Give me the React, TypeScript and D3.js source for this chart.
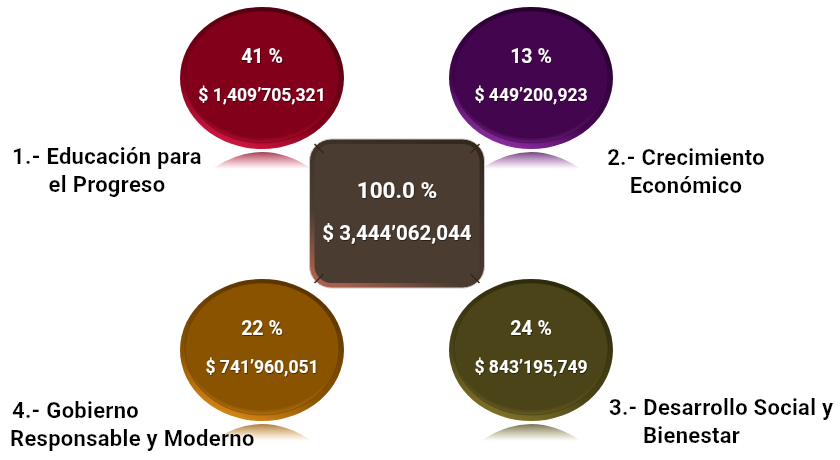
import { useEffect, useRef } from "react";
import * as d3 from "d3";

const AXES = ["1.- Educación para|el Progreso", "2.- Crecimiento|Económico", "3.- Desarrollo Social y|Bienestar", "4.- Gobierno|Responsable y Moderno"];
const PERCENTS = ["41 %", "13 %", "24 %", "22 %"];
const AMOUNTS = ["$ 1,409’705,321", "$ 449’200,923", "$ 843’195,749", "$ 741’960,051"];
const QUADRANTS: Array<[string, string]> = [["left", "top"], ["right", "top"], ["right", "bottom"], ["left", "bottom"]];
const TOTAL_PERCENT = "100.0 %";
const TOTAL_AMOUNT = "$ 3,444’062,044";

// main, bright rim, dark rim
const PALETTE = [
  ["#820019", "#d81a44", "#4e000e"],
  ["#43054e", "#9232a8", "#26002c"],
  ["#4a4418", "#857628", "#2c280a"],
  ["#8a5300", "#dc8c1a", "#583200"],
];
const CENTER_COLORS = ["#4b3c32", "#a8604c", "#33281f"];

const WIDTH = 840;
const HEIGHT = 460;
const FONT = "Roboto, 'Noto Sans', sans-serif";

function renderChart(el: SVGSVGElement | null) {
  if (!el) return;
  const svg = d3.select(el);
  svg.selectAll("*").remove();
  svg.attr("width", WIDTH).attr("height", HEIGHT).attr("viewBox", `0 0 ${WIDTH} ${HEIGHT}`);

  const xPos = d3.scalePoint<string>().domain(["left", "right"]).range([262, 531]);
  const yPos = d3.scalePoint<string>().domain(["top", "bottom"]).range([78, 350]);
  const rx = 82;
  const ry = 71;

  const defs = svg.append("defs");

  PALETTE.forEach((c, i) => {
    const rim = defs.append("linearGradient").attr("id", `rim${i}`)
      .attr("x1", "0.7").attr("y1", "0").attr("x2", "0.3").attr("y2", "1");
    rim.append("stop").attr("offset", "0%").attr("stop-color", c[2]);
    rim.append("stop").attr("offset", "70%").attr("stop-color", c[0]);
    rim.append("stop").attr("offset", "100%").attr("stop-color", c[1]);

    const face = defs.append("radialGradient").attr("id", `face${i}`)
      .attr("cx", "0.5").attr("cy", "0.45").attr("r", "0.6");
    face.append("stop").attr("offset", "0%").attr("stop-color", c[0]);
    face.append("stop").attr("offset", "85%").attr("stop-color", c[0]);
    face.append("stop").attr("offset", "100%").attr("stop-color", c[1]).attr("stop-opacity", 0.45);

    const refl = defs.append("linearGradient").attr("id", `refl${i}`)
      .attr("x1", 0).attr("y1", 0).attr("x2", 0).attr("y2", 1);
    refl.append("stop").attr("offset", "0%").attr("stop-color", c[0]).attr("stop-opacity", 0.75);
    refl.append("stop").attr("offset", "100%").attr("stop-color", c[1]).attr("stop-opacity", 0);
  });

  const crim = defs.append("linearGradient").attr("id", "crim")
    .attr("x1", "0.8").attr("y1", "0").attr("x2", "0.2").attr("y2", "1");
  crim.append("stop").attr("offset", "0%").attr("stop-color", CENTER_COLORS[2]);
  crim.append("stop").attr("offset", "70%").attr("stop-color", CENTER_COLORS[0]);
  crim.append("stop").attr("offset", "100%").attr("stop-color", CENTER_COLORS[1]);

  const shadow = defs.append("filter").attr("id", "ts").attr("x", "-10%").attr("y", "-20%").attr("width", "120%").attr("height", "140%");
  shadow.append("feDropShadow").attr("dx", 0.6).attr("dy", 0.8).attr("stdDeviation", 0.6)
    .attr("flood-color", "#000").attr("flood-opacity", 0.6);
  const glow = defs.append("filter").attr("id", "glow").attr("x", "-10%").attr("y", "-20%").attr("width", "120%").attr("height", "140%");
  glow.append("feDropShadow").attr("dx", 0).attr("dy", 0).attr("stdDeviation", 1.2)
    .attr("flood-color", "#fff").attr("flood-opacity", 0.9);

  const items = AXES.map((label, i) => ({
    label,
    pct: PERCENTS[i],
    amt: AMOUNTS[i],
    cx: xPos(QUADRANTS[i][0])!,
    cy: yPos(QUADRANTS[i][1])!,
    i,
  }));

  // reflections
  items.forEach((d) => {
    const top = d.cy + ry + 3;
    const w = 50;
    const h = 17;
    svg.append("path")
      .attr("d", `M${d.cx - w},${top + h} Q${d.cx - w * 0.5},${top} ${d.cx},${top} Q${d.cx + w * 0.5},${top} ${d.cx + w},${top + h} Z`)
      .attr("fill", `url(#refl${d.i})`);
  });

  // discs
  items.forEach((d) => {
    const g = svg.append("g");
    g.append("ellipse").attr("cx", d.cx).attr("cy", d.cy).attr("rx", rx).attr("ry", ry)
      .attr("fill", `url(#rim${d.i})`);
    g.append("ellipse").attr("cx", d.cx).attr("cy", d.cy - 1).attr("rx", rx - 5).attr("ry", ry - 5)
      .attr("fill", `url(#face${d.i})`)
      .attr("stroke", PALETTE[d.i][2]).attr("stroke-opacity", 0.4).attr("stroke-width", 1);
    g.append("text").attr("x", d.cx).attr("y", d.cy - 15)
      .attr("text-anchor", "middle").attr("fill", "#fff").attr("font-family", FONT)
      .attr("font-weight", 700).attr("font-size", 19.5).attr("filter", "url(#ts)").text(d.pct);
    g.append("text").attr("x", d.cx).attr("y", d.cy + 23)
      .attr("text-anchor", "middle").attr("fill", "#fff").attr("font-family", FONT)
      .attr("font-weight", 700).attr("font-size", 17.5).attr("filter", "url(#ts)").text(d.amt);
  });

  // center total box
  const bx = d3.mean(xPos.range())! - 87;
  const by = d3.mean(yPos.range())! - 75;
  const bw = 175;
  const bh = 149;
  const c = svg.append("g");
  c.append("rect").attr("x", bx).attr("y", by).attr("width", bw).attr("height", bh)
    .attr("rx", 22).attr("fill", "url(#crim)").attr("stroke", "#d0c8c0").attr("stroke-width", 1);
  c.append("rect").attr("x", bx + 5).attr("y", by + 5).attr("width", bw - 10).attr("height", bh - 10)
    .attr("rx", 17).attr("fill", CENTER_COLORS[0]);
  [[0, 0, 1, 1], [1, 0, -1, 1], [0, 1, 1, -1], [1, 1, -1, -1]].forEach(([fx, fy, sx, sy]) => {
    const x0 = bx + fx * bw + sx * 5;
    const y0 = by + fy * bh + sy * 5;
    c.append("line").attr("x1", x0).attr("y1", y0).attr("x2", x0 + sx * 9).attr("y2", y0 + sy * 9)
      .attr("stroke", CENTER_COLORS[2]).attr("stroke-width", 1.5);
  });
  c.append("text").attr("x", bx + bw / 2).attr("y", by + 59)
    .attr("text-anchor", "middle").attr("fill", "#fff").attr("font-family", FONT)
    .attr("font-weight", 700).attr("font-size", 22.5).attr("filter", "url(#ts)").text(TOTAL_PERCENT);
  c.append("text").attr("x", bx + bw / 2).attr("y", by + 101)
    .attr("text-anchor", "middle").attr("fill", "#fff").attr("font-family", FONT)
    .attr("font-weight", 700).attr("font-size", 20.5).attr("filter", "url(#ts)").text(TOTAL_AMOUNT);

  // category labels
  const labelPos = [
    { x: 107, y: 164, anchor: "middle", indent: 0 },
    { x: 686, y: 165, anchor: "middle", indent: 0 },
    { x: 609, y: 415, anchor: "start", indent: 34 },
    { x: 12, y: 418, anchor: "start", indent: -2 },
  ];
  items.forEach((d) => {
    const p = labelPos[d.i];
    const t = svg.append("text").attr("x", p.x).attr("y", p.y)
      .attr("text-anchor", p.anchor).attr("fill", "#000").attr("font-family", FONT)
      .attr("font-weight", 700).attr("font-size", 22).attr("letter-spacing", 0.3)
      .attr("filter", "url(#glow)");
    d.label.split("|").forEach((line, k) => {
      t.append("tspan").attr("x", p.x + (k === 0 ? 0 : p.indent)).attr("dy", k === 0 ? 0 : 28).text(line);
    });
  });
}

export default function App() {
  const svgRef = useRef<SVGSVGElement>(null);
  useEffect(() => {
    renderChart(svgRef.current);
  }, []);
  return (
    <div style={{ position: "absolute", left: 0, top: 0, width: WIDTH, height: HEIGHT, background: "#fff" }}>
      <svg ref={svgRef} style={{ display: "block" }} />
    </div>
  );
}
